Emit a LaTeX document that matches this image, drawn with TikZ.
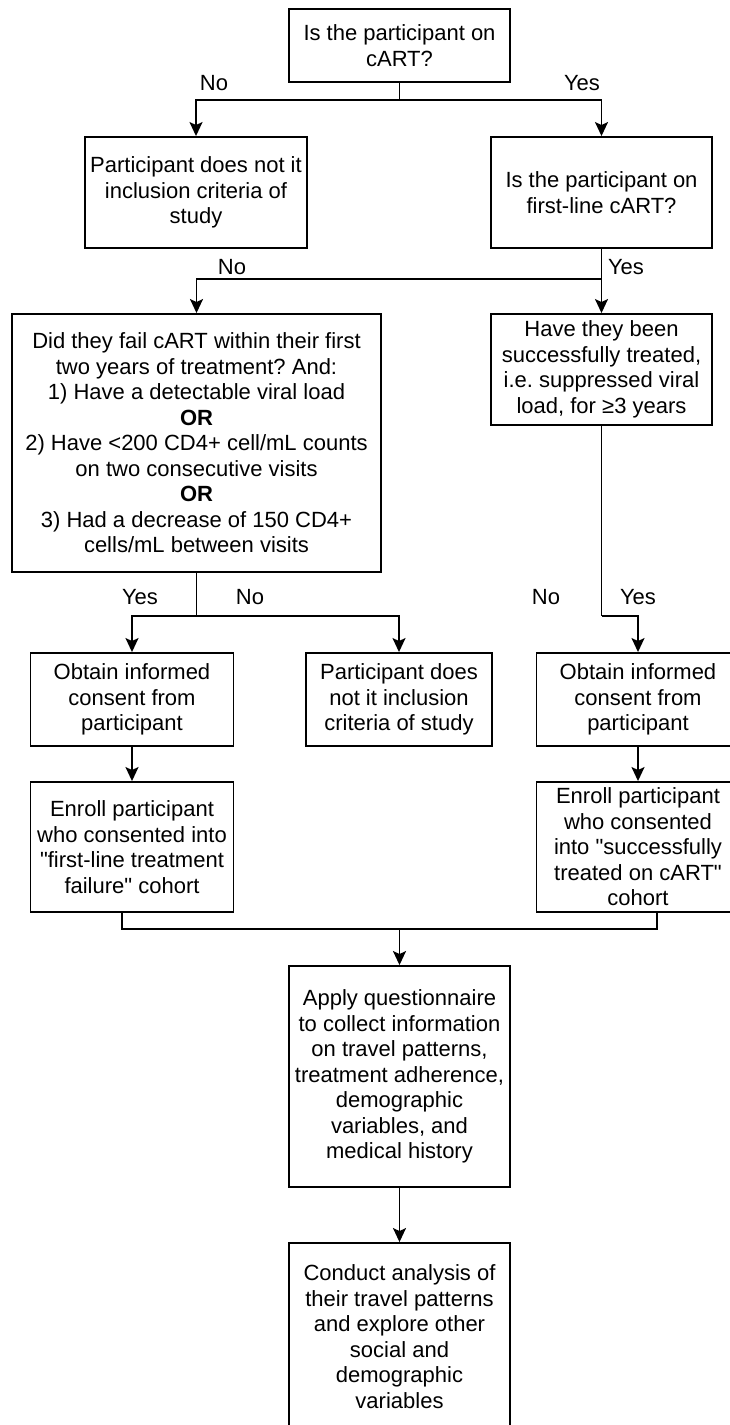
\documentclass[tikz,border=0pt]{standalone}
\usepackage{fontspec}
\setmainfont{Liberation Sans}
\newfontfamily\lsans{Liberation Sans}
\newfontfamily\lsansb{Liberation Sans Bold}
\usetikzlibrary{arrows.meta}
\frenchspacing
\begin{document}
\begin{tikzpicture}[x=1pt,y=-1pt,
  every node/.style={font=\lsans\fontsize{22}{25.5}\selectfont},
  box/.style={draw, line width=1.9pt, align=center, inner sep=0pt},
  lbl/.style={inner sep=0pt, anchor=center},
  link/.style={line width=1.9pt},
  arr/.style={line width=1.9pt, -{Stealth[length=14pt,width=13pt,inset=3pt]}}]
\useasboundingbox (0,0) rectangle (730,1425);
\clip (0,0) rectangle (730,1425);
% boxes
\node[box, minimum width=221pt, minimum height=73pt] (q1) at (399.5,45.5) {Is the participant on\\cART?};
\node[box, minimum width=222pt, minimum height=111pt] (nf1) at (196,192.5) {Participant does not it\\inclusion criteria of\\study};
\node[box, minimum width=221pt, minimum height=111pt] (q2) at (601.5,192.5) {Is the participant on\\first-line cART?};
\node[box, minimum width=369pt, minimum height=258pt] (q3) at (196.5,443) {Did they fail cART within their first\\two years of treatment? And:\\1) Have a detectable viral load\\{\lsansb OR}\\2) Have <200 CD4+ cell/mL counts\\on two consecutive visits\\{\lsansb OR}\\3) Had a decrease of 150 CD4+\\cells/mL between visits};
\node[box, minimum width=221pt, minimum height=111pt] (q4) at (601.5,369.5) {Have they been\\successfully treated,\\i.e. suppressed viral\\load, for ≥3 years};
\node[box, minimum width=203pt, minimum height=93pt] (c1) at (132,699.5) {Obtain informed\\consent from\\participant};
\node[box, minimum width=186pt, minimum height=93pt] (nf2) at (399,699.5) {Participant does\\not it inclusion\\criteria of study};
\node[box, minimum width=203pt, minimum height=93pt] (c2) at (638,699.5) {Obtain informed\\consent from\\participant};
\node[box, minimum width=203pt, minimum height=130pt] (e1) at (132,847) {Enroll participant\\who consented into\\"first-line treatment\\failure" cohort};
\node[box, minimum width=203pt, minimum height=130pt] (e2) at (638,847) {Enroll participant\\who consented\\into "successfully\\treated on cART"\\cohort};
\node[box, minimum width=221pt, minimum height=221pt] (ap) at (399.5,1076.5) {Apply questionnaire\\to collect information\\on travel patterns,\\treatment adherence,\\demographic\\variables, and\\medical history};
\node[box, minimum width=221pt, minimum height=187pt] (ca) at (399.5,1336.5) {Conduct analysis of\\their travel patterns\\and explore other\\social and\\demographic\\variables};
% labels
\node[lbl] (l1) at (214,83) {No};
\node[lbl] (l2) at (582,83) {Yes};
\node[lbl] (l3) at (232,267) {No};
\node[lbl] (l4) at (626,267) {Yes};
\node[lbl] (l5) at (140,597) {Yes};
\node[lbl] (l6) at (250,597) {No};
\node[lbl] (l7) at (546,597) {No};
\node[lbl] (l8) at (638,597) {Yes};
% junctions
\coordinate (b1) at (399.5,100);
\coordinate (b2) at (601.5,279);
\coordinate (b3) at (196.5,616);
\coordinate (b4) at (601.5,616);
\coordinate (m) at (399.5,929);
% connectors
\draw[link] (q1.south) -- (b1);
\draw[arr] (b1) -| (nf1.north);
\draw[arr] (b1) -| (q2.north);
\draw[link] (q2.south) -- (b2);
\draw[arr] (b2) -| (q3.north);
\draw[arr] (b2) -- (q4.north);
\draw[link] (q3.south) -- (b3);
\draw[arr] (b3) -| (c1.north);
\draw[arr] (b3) -| (nf2.north);
\draw[link] (q4.south) -- (b4);
\draw[arr] (b4) -| (c2.north);
\draw[arr] (c1.south) -- (e1.north);
\draw[arr] (c2.south) -- (e2.north);
\draw[link] ([xshift=-10pt]e1.south) |- (m);
\draw[link] ([xshift=19pt]e2.south) |- (m);
\draw[arr] (m) -- (ap.north);
\draw[arr] (ap.south) -- (ca.north);
\end{tikzpicture}
\end{document}
